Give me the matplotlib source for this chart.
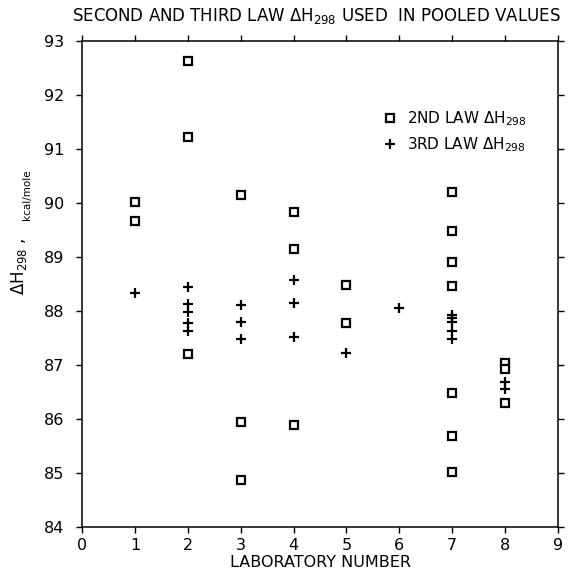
import numpy as np
import matplotlib
matplotlib.use("Agg")
import matplotlib.pyplot as plt

# 2nd law values, one entry per measurement
lab_2nd = [1, 1,
           2, 2, 2,
           3, 3, 3,
           4, 4, 4,
           5, 5,
           7, 7, 7, 7, 7, 7, 7,
           8, 8, 8]
dh_2nd = [90.01, 89.67,
          92.63, 91.22, 87.21,
          90.15, 85.94, 84.87,
          89.83, 89.14, 85.88,
          88.49, 87.77,
          90.21, 89.49, 88.91, 88.47, 86.49, 85.69, 85.01,
          87.03, 86.92, 86.29]

# 3rd law values
lab_3rd = [1,
           2, 2, 2, 2, 2,
           3, 3, 3,
           4, 4, 4,
           5,
           6,
           7, 7, 7, 7, 7,
           8, 8]
dh_3rd = [88.33,
          88.44, 88.13, 87.99, 87.77, 87.63,
          88.11, 87.80, 87.49,
          88.57, 88.15, 87.52,
          87.22,
          88.06,
          87.92, 87.87, 87.80, 87.63, 87.49,
          86.68, 86.55]

x_ticks = list(range(0, 10))
y_ticks = list(range(84, 94))

plt.rcParams['font.family'] = ['DejaVu Sans']
plt.rcParams['mathtext.fontset'] = 'dejavusans'

fig = plt.figure(figsize=(5.74, 5.71), dpi=100)
W, H = 574, 571
L, R, T, B = 82, 558, 41, 527
ax = fig.add_axes([L / W, 1 - B / H, (R - L) / W, (B - T) / H])

ax.plot(lab_2nd, dh_2nd, linestyle='none', marker='s', markersize=5.5,
        markerfacecolor='white', markeredgecolor='black', markeredgewidth=1.6,
        label=r'2ND LAW $\Delta$H$_{298}$')
ax.plot(lab_3rd, dh_3rd, linestyle='none', marker='+', markersize=6.5,
        color='black', markeredgewidth=1.6,
        label=r'3RD LAW $\Delta$H$_{298}$')

ax.set_xlim(0, 9)
ax.set_ylim(84, 93)
ax.set_xticks(x_ticks)
ax.set_yticks(y_ticks)
ax.tick_params(direction='out', length=4, width=1, labelsize=11.5,
               top=True, right=True, labeltop=False, labelright=False)
ax.tick_params(axis='x', pad=4)
ax.tick_params(axis='y', pad=9)
for s in ax.spines.values():
    s.set_linewidth(1.1)

# x label placed by its baseline so it stays inside the picture
fig.text(320 / W, 1 - 567 / H, 'LABORATORY NUMBER', ha='center',
         va='baseline', fontsize=11.5)

ax.legend(frameon=False, loc='upper left', bbox_to_anchor=(0.618, 0.872),
          fontsize=11, handlelength=1.0, handletextpad=0.6,
          labelspacing=0.5, borderaxespad=0)

fig.text(316 / W, 1 - 16 / H,
         r'SECOND AND THIRD LAW $\Delta$H$_{298}$ USED  IN POOLED VALUES',
         ha='center', va='center', fontsize=12)

# y label: big part and small units
fig.text(19 / W, 1 - 266 / H, r'$\Delta$H$_{298}$ ,', rotation=90,
         ha='center', va='center', fontsize=12)
fig.text(27 / W, 1 - 195 / H, 'kcal/mole', rotation=90,
         ha='center', va='center', fontsize=7.5)

fig.savefig('out.png', dpi=100)
